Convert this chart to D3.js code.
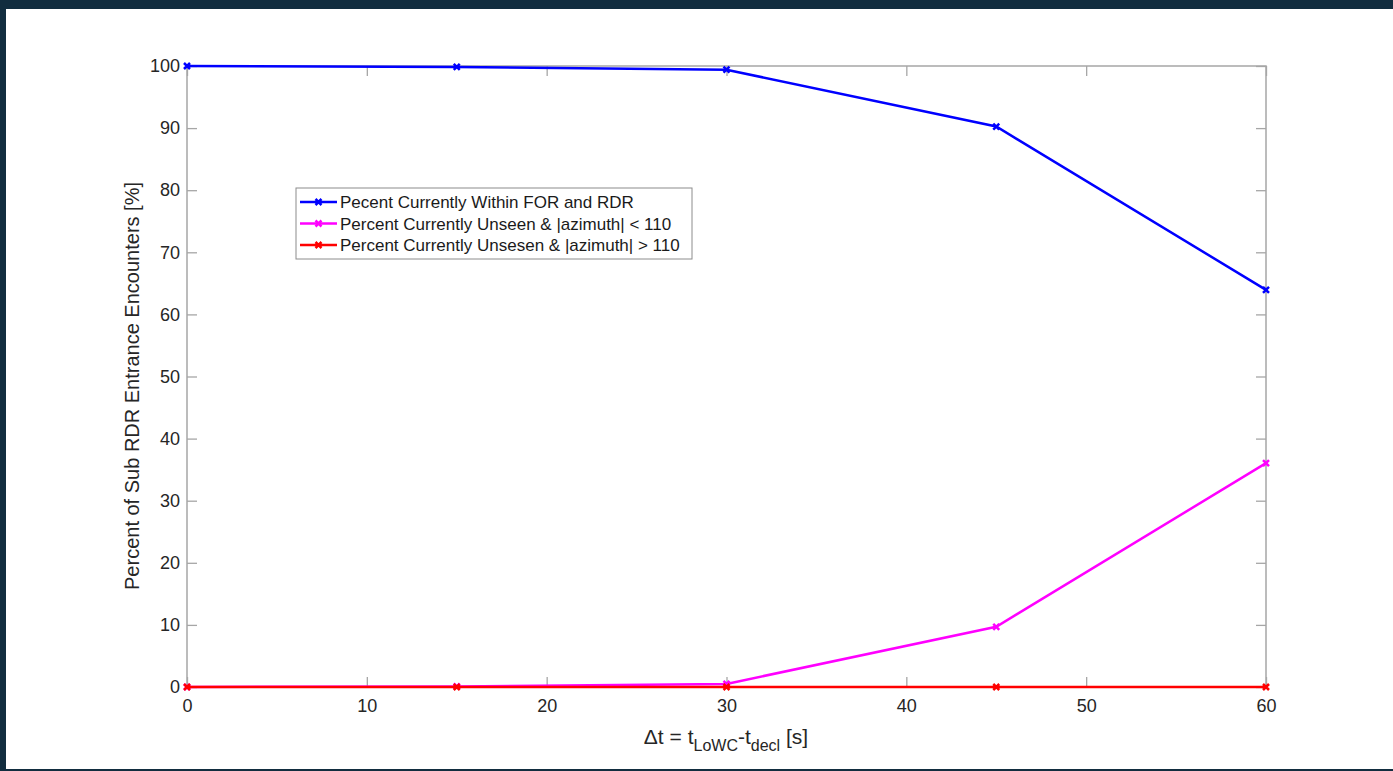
<!DOCTYPE html>
<html>
<head>
<meta charset="utf-8">
<script src="https://cdn.jsdelivr.net/npm/d3@7"></script>
<style>
  html, body { margin: 0; padding: 0; background: #122d3f; }
  svg { display: block; }
  text { font-family: "Liberation Sans", Arial, sans-serif; }
</style>
</head>
<body>
<div id="chart"></div>
<script>
const timeSteps = [0, 15, 30, 45, 60];
const withinForRdr = [100, 99.85, 99.4, 90.25, 63.95];
const unseenBelow110 = [0, 0.1, 0.5, 9.7, 36.05];
const unseenAbove110 = [0, 0, 0, 0, 0];

const xTicks = [0, 10, 20, 30, 40, 50, 60];
const yTicks = [0, 10, 20, 30, 40, 50, 60, 70, 80, 90, 100];

const seriesNames = [
  "Pecent Currently Within FOR and RDR",
  "Percent Currently Unseen & |azimuth| < 110",
  "Percent Currently Unsesen & |azimuth| > 110"
];
const seriesColors = ["#0000ff", "#ff00ff", "#ff0000"];
const seriesValues = [withinForRdr, unseenBelow110, unseenAbove110];

const width = 1393, height = 771;
const svg = d3.select("#chart").append("svg")
  .attr("width", width).attr("height", height);

// white page inside the dark frame
svg.append("rect").attr("x", 6).attr("y", 9)
  .attr("width", width - 6).attr("height", 760).attr("fill", "#fff");

const plotLeft = 187, plotRight = 1266, plotTop = 66, plotBottom = 687;
const x = d3.scaleLinear().domain([0, 60]).range([plotLeft, plotRight]);
const y = d3.scaleLinear().domain([0, 100]).range([plotBottom, plotTop]);

const axisColor = "#a6a6a6";
const tickLen = 10;

// box
svg.append("rect").attr("x", plotLeft).attr("y", plotTop)
  .attr("width", plotRight - plotLeft).attr("height", plotBottom - plotTop)
  .attr("fill", "none").attr("stroke", axisColor).attr("stroke-width", 1.5);

// ticks (inward on all sides, MATLAB-like)
const xAxisB = d3.axisBottom(x).tickValues(xTicks).tickSizeInner(-tickLen).tickSizeOuter(0).tickPadding(12);
const xAxisT = d3.axisTop(x).tickValues(xTicks).tickSizeInner(-tickLen).tickSizeOuter(0).tickFormat("");
const yAxisL = d3.axisLeft(y).tickValues(yTicks).tickSizeInner(-tickLen).tickSizeOuter(0).tickPadding(7);
const yAxisR = d3.axisRight(y).tickValues(yTicks).tickSizeInner(-tickLen).tickSizeOuter(0).tickFormat("");

function styleAxis(g) {
  g.select(".domain").remove();
  g.selectAll(".tick line").attr("stroke", axisColor).attr("stroke-width", 1.3);
  g.selectAll(".tick text").attr("fill", "#262626").attr("font-size", 18)
    .attr("font-family", "Liberation Sans, Arial, sans-serif");
}

svg.append("g").attr("transform", `translate(0,${plotBottom})`).call(xAxisB).call(styleAxis);
svg.append("g").attr("transform", `translate(0,${plotTop})`).call(xAxisT).call(styleAxis);
svg.append("g").attr("transform", `translate(${plotLeft},0)`).call(yAxisL).call(styleAxis);
svg.append("g").attr("transform", `translate(${plotRight},0)`).call(yAxisR).call(styleAxis);

// series
const line = d3.line().x((d, i) => x(timeSteps[i])).y(d => y(d));

function drawMarker(g, cx, cy, color) {
  const s = 3;
  g.append("path")
    .attr("d", `M${cx - s},${cy - s}L${cx + s},${cy + s}M${cx - s},${cy + s}L${cx + s},${cy - s}`)
    .attr("stroke", color).attr("stroke-width", 2.5).attr("fill", "none");
}

seriesValues.forEach((vals, k) => {
  const g = svg.append("g");
  g.append("path").datum(vals).attr("d", line)
    .attr("fill", "none").attr("stroke", seriesColors[k]).attr("stroke-width", 2.5);
  vals.forEach((v, i) => drawMarker(g, x(timeSteps[i]), y(v), seriesColors[k]));
});

// legend
const legX = 296, legY = 188, legW = 396, legH = 71;
const leg = svg.append("g");
leg.append("rect").attr("x", legX).attr("y", legY).attr("width", legW).attr("height", legH)
  .attr("fill", "#fff").attr("stroke", "#8c8c8c").attr("stroke-width", 1);
seriesNames.forEach((name, k) => {
  const cy = legY + 14 + k * 21.5;
  leg.append("line").attr("x1", legX + 4).attr("x2", legX + 41).attr("y1", cy).attr("y2", cy)
    .attr("stroke", seriesColors[k]).attr("stroke-width", 2.5);
  drawMarker(leg, legX + 22.5, cy, seriesColors[k]);
  leg.append("text").attr("x", legX + 44).attr("y", cy + 6)
    .attr("font-size", 17).attr("fill", "#1a1a1a").text(name);
});

// x label
const xl = svg.append("text").attr("x", 726).attr("y", 744)
  .attr("text-anchor", "middle").attr("font-size", 21).attr("fill", "#262626");
xl.append("tspan").text("\u0394t = t");
xl.append("tspan").attr("dy", 7).attr("font-size", 16).text("LoWC");
xl.append("tspan").attr("dy", -7).text("-t");
xl.append("tspan").attr("dy", 7).attr("font-size", 16).text("decl");
xl.append("tspan").attr("dy", -7).text(" [s]");

// y label
svg.append("text")
  .attr("transform", "translate(139,386) rotate(-90)")
  .attr("text-anchor", "middle").attr("font-size", 20).attr("fill", "#262626")
  .text("Percent of Sub RDR Entrance Encounters [%]");
</script>
</body>
</html>
